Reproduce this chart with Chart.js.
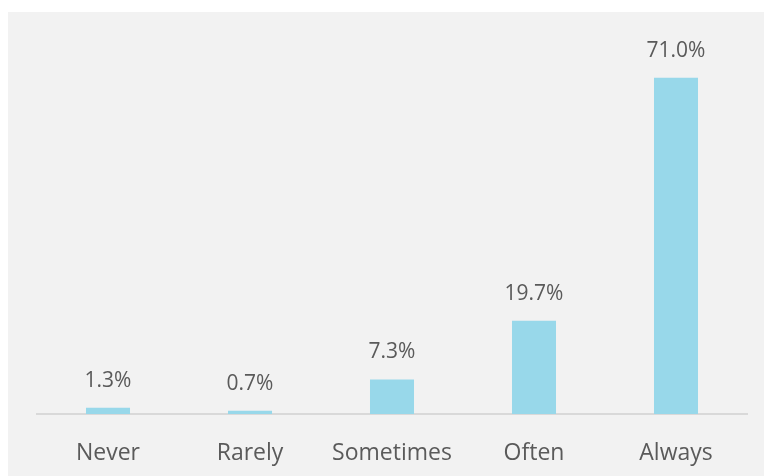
<!DOCTYPE html>
<html>
<head>
<meta charset="utf-8">
<script src="https://cdn.jsdelivr.net/npm/chart.js@4.4.1/dist/chart.umd.min.js"></script>
<style>
  html, body { margin: 0; padding: 0; background: #ffffff; }
  #panel { position: absolute; left: 8px; top: 12px; width: 756px; height: 464px; background: #f2f2f2; }
  canvas { display: block; }
</style>
</head>
<body>
<div id="panel"><canvas id="chart" width="756" height="464"></canvas></div>
<script>
const categories = ['Never', 'Rarely', 'Sometimes', 'Often', 'Always'];
const shares = [1.3, 0.7, 7.3, 19.7, 71.0];

const TEXT = '#5a5a5a';
const FONT = '"Open Sans", "DejaVu Sans", sans-serif';

// value labels above each bar
const barLabels = {
  id: 'barLabels',
  afterDatasetsDraw(chart) {
    const { ctx } = chart;
    const meta = chart.getDatasetMeta(0);
    ctx.save();
    ctx.font = '21px ' + FONT;
    ctx.fillStyle = TEXT;
    ctx.textAlign = 'center';
    ctx.textBaseline = 'middle';
    meta.data.forEach((bar, i) => {
      ctx.fillText(shares[i].toFixed(1) + '%', bar.x, bar.y - 27);
    });
    ctx.restore();
  }
};

new Chart(document.getElementById('chart'), {
  type: 'bar',
  data: {
    labels: categories,
    datasets: [{
      data: shares,
      backgroundColor: '#98d8ea',
      borderWidth: 0,
      categoryPercentage: 1,
      barPercentage: 0.31
    }]
  },
  options: {
    responsive: false,
    animation: false,
    layout: { padding: { top: 23, left: 29, right: 17, bottom: 0 } },
    plugins: { legend: { display: false }, tooltip: { enabled: false } },
    scales: {
      x: {
        grid: { display: false, drawTicks: false },
        border: { display: true, color: '#d9d9d9', width: 2 },
        ticks: { color: TEXT, font: { family: FONT, size: 23 }, padding: 26, maxRotation: 0 },
        afterFit(scale) { scale.height = 62; }
      },
      y: { display: false, min: 0, max: 80 }
    }
  },
  plugins: [barLabels]
});
</script>
</body>
</html>
